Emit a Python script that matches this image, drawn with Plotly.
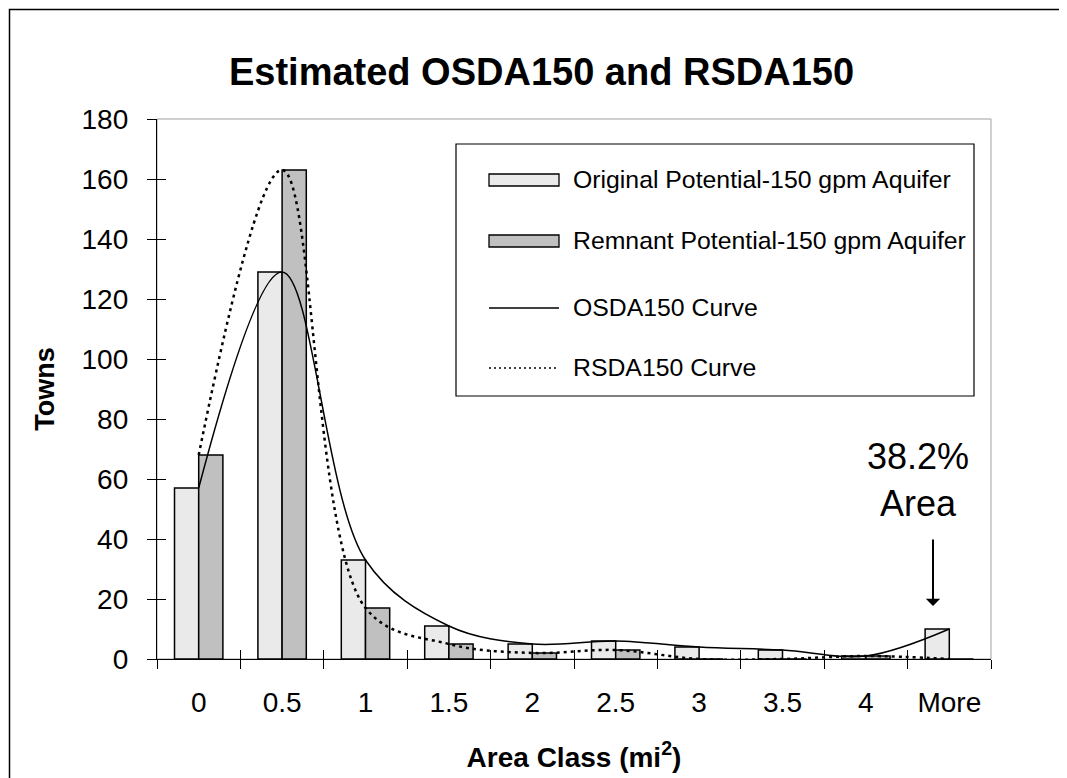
import plotly.graph_objects as go

# ---- data ----
categories = ["0", "0.5", "1", "1.5", "2", "2.5", "3", "3.5", "4", "More"]
original_counts = [57, 129, 33, 11, 5, 6, 4, 3, 1, 10]
remnant_counts = [68, 163, 17, 5, 2, 3, 0, 0, 1, 0]
y_ticks = [0, 20, 40, 60, 80, 100, 120, 140, 160, 180]

series_names = ["Original Potential-150 gpm Aquifer", "Remnant Potential-150 gpm Aquifer",
                "OSDA150 Curve", "RSDA150 Curve"]
title_text = "Estimated OSDA150 and RSDA150"
x_title = "Area Class (mi<sup>2</sup>)"
y_title = "Towns"
note_text = "38.2%<br>Area"

# ---- style ----
W, H = 1067, 778
ML, MR, MT, MB = 149, 84, 111, 127
PW, PH = W - ML - MR, H - MT - MB
FONT = "Liberation Sans, Arial, sans-serif"
C_ORIG = "#EAEAEA"
C_REM = "#C0C0C0"


def px(x):
    return (x - ML) / PW


def py(y):
    return (H - MB - y) / PH


fig = go.Figure()
fig.add_trace(go.Bar(x=categories, y=original_counts, name=series_names[0],
                     marker=dict(color=C_ORIG, line=dict(color="black", width=1.5)),
                     showlegend=False))
fig.add_trace(go.Bar(x=categories, y=remnant_counts, name=series_names[1],
                     marker=dict(color=C_REM, line=dict(color="black", width=1.5)),
                     showlegend=False))
fig.add_trace(go.Scatter(x=categories, y=original_counts, name=series_names[2], mode="lines",
                         line=dict(color="black", width=1.5, shape="spline", smoothing=1.0),
                         showlegend=False))
fig.add_trace(go.Scatter(x=categories, y=remnant_counts, name=series_names[3], mode="lines",
                         line=dict(color="black", width=2.5, dash="3px,4px", shape="spline", smoothing=1.0),
                         showlegend=False))
# empty trace to carry the overlay axes (crossing ticks)
fig.add_trace(go.Scatter(x=[], y=[], xaxis="x2", yaxis="y2", showlegend=False, hoverinfo="skip"))

tick_font = dict(family=FONT, size=28, color="black")

fig.update_layout(
    width=W, height=H,
    margin=dict(l=ML, r=MR, t=MT, b=MB, autoexpand=False),
    paper_bgcolor="white", plot_bgcolor="white",
    barmode="group", bargap=0.42, bargroupgap=0,
    title=dict(text="<b>" + title_text + "</b>", x=0.5, xanchor="center",
               y=1 - 64 / H, yanchor="middle",
               font=dict(family=FONT, size=38, color="black")),
    xaxis=dict(type="category", categoryorder="array", categoryarray=categories,
               range=[-0.5, len(categories) - 0.5],
               showline=True, linecolor="black", linewidth=1.3,
               ticks="outside", tickson="boundaries", ticklen=9, tickcolor="black", tickwidth=1,
               tickfont=tick_font, ticklabelstandoff=18,
               showgrid=False, zeroline=False,
               title=dict(text="<b>" + x_title + "</b>", standoff=30,
                          font=dict(family=FONT, size=28, color="black"))),
    yaxis=dict(range=[0, 180], tickvals=y_ticks,
               showline=True, linecolor="black", linewidth=1.3,
               ticks="outside", ticklen=9, tickcolor="black", tickwidth=1,
               tickfont=tick_font, ticklabelstandoff=13,
               showgrid=False, zeroline=False,
               title=dict(text="<b>" + y_title + "</b>", standoff=19,
                          font=dict(family=FONT, size=27, color="black"))),
    xaxis2=dict(overlaying="x", anchor="y", range=[-0.5, len(categories) - 0.5],
                tickvals=[i - 0.5 for i in range(len(categories) + 1)],
                ticks="inside", ticklen=9, tickcolor="black", tickwidth=1,
                showticklabels=False, showline=False, showgrid=False, zeroline=False),
    yaxis2=dict(overlaying="y", anchor="x", side="left", range=[0, 180], tickvals=y_ticks,
                ticks="inside", ticklen=9, tickcolor="black", tickwidth=1,
                showticklabels=False, showline=False, showgrid=False, zeroline=False),
    showlegend=False,
)

shapes = []
# plot-area border (light gray)
shapes.append(dict(type="rect", xref="paper", yref="paper", x0=0, x1=1, y0=0, y1=1,
                   line=dict(color="#A0A0A0", width=1), layer="below"))
# chart outer border
shapes.append(dict(type="rect", xref="paper", yref="paper", x0=px(1.5), x1=px(1065.5),
                   y0=py(800), y1=py(1.5), line=dict(color="black", width=1.5)))
# legend box
LX0, LX1, LY0, LY1 = 448, 966, 136, 388
shapes.append(dict(type="rect", xref="paper", yref="paper", x0=px(LX0), x1=px(LX1),
                   y0=py(LY1), y1=py(LY0), line=dict(color="black", width=1.2),
                   fillcolor="white"))
rows = [172, 233, 300, 360]
SX0, SX1 = 481, 551
shapes.append(dict(type="rect", xref="paper", yref="paper", x0=px(SX0), x1=px(SX1),
                   y0=py(rows[0] + 6), y1=py(rows[0] - 6),
                   fillcolor=C_ORIG, line=dict(color="black", width=1.3)))
shapes.append(dict(type="rect", xref="paper", yref="paper", x0=px(SX0), x1=px(SX1),
                   y0=py(rows[1] + 6), y1=py(rows[1] - 6),
                   fillcolor=C_REM, line=dict(color="black", width=1.3)))
shapes.append(dict(type="line", xref="paper", yref="paper", x0=px(SX0), x1=px(SX1),
                   y0=py(rows[2]), y1=py(rows[2]), line=dict(color="black", width=1.3)))
shapes.append(dict(type="line", xref="paper", yref="paper", x0=px(SX0), x1=px(SX1),
                   y0=py(rows[3]), y1=py(rows[3]), line=dict(color="black", width=1.5, dash="2px,3px")))
fig.update_layout(shapes=shapes)

annotations = []
for r, name in zip(rows, series_names):
    annotations.append(dict(text=name, xref="paper", yref="paper", x=px(563), y=py(r - 1),
                            xanchor="left", yanchor="middle", showarrow=False,
                            font=dict(family=FONT, size=24.8, color="black")))
annotations.append(dict(text=note_text, xref="paper", yref="paper", x=px(910), y=py(472),
                        xanchor="center", yanchor="middle", showarrow=False,
                        font=dict(family=FONT, size=36, color="black")))
annotations.append(dict(text="", xref="paper", yref="paper", x=px(925), y=py(598),
                        ax=0, ay=-68, showarrow=True, arrowhead=1, arrowsize=1.2,
                        arrowwidth=2, arrowcolor="black"))
fig.update_layout(annotations=annotations)

fig.write_html("out.html")
